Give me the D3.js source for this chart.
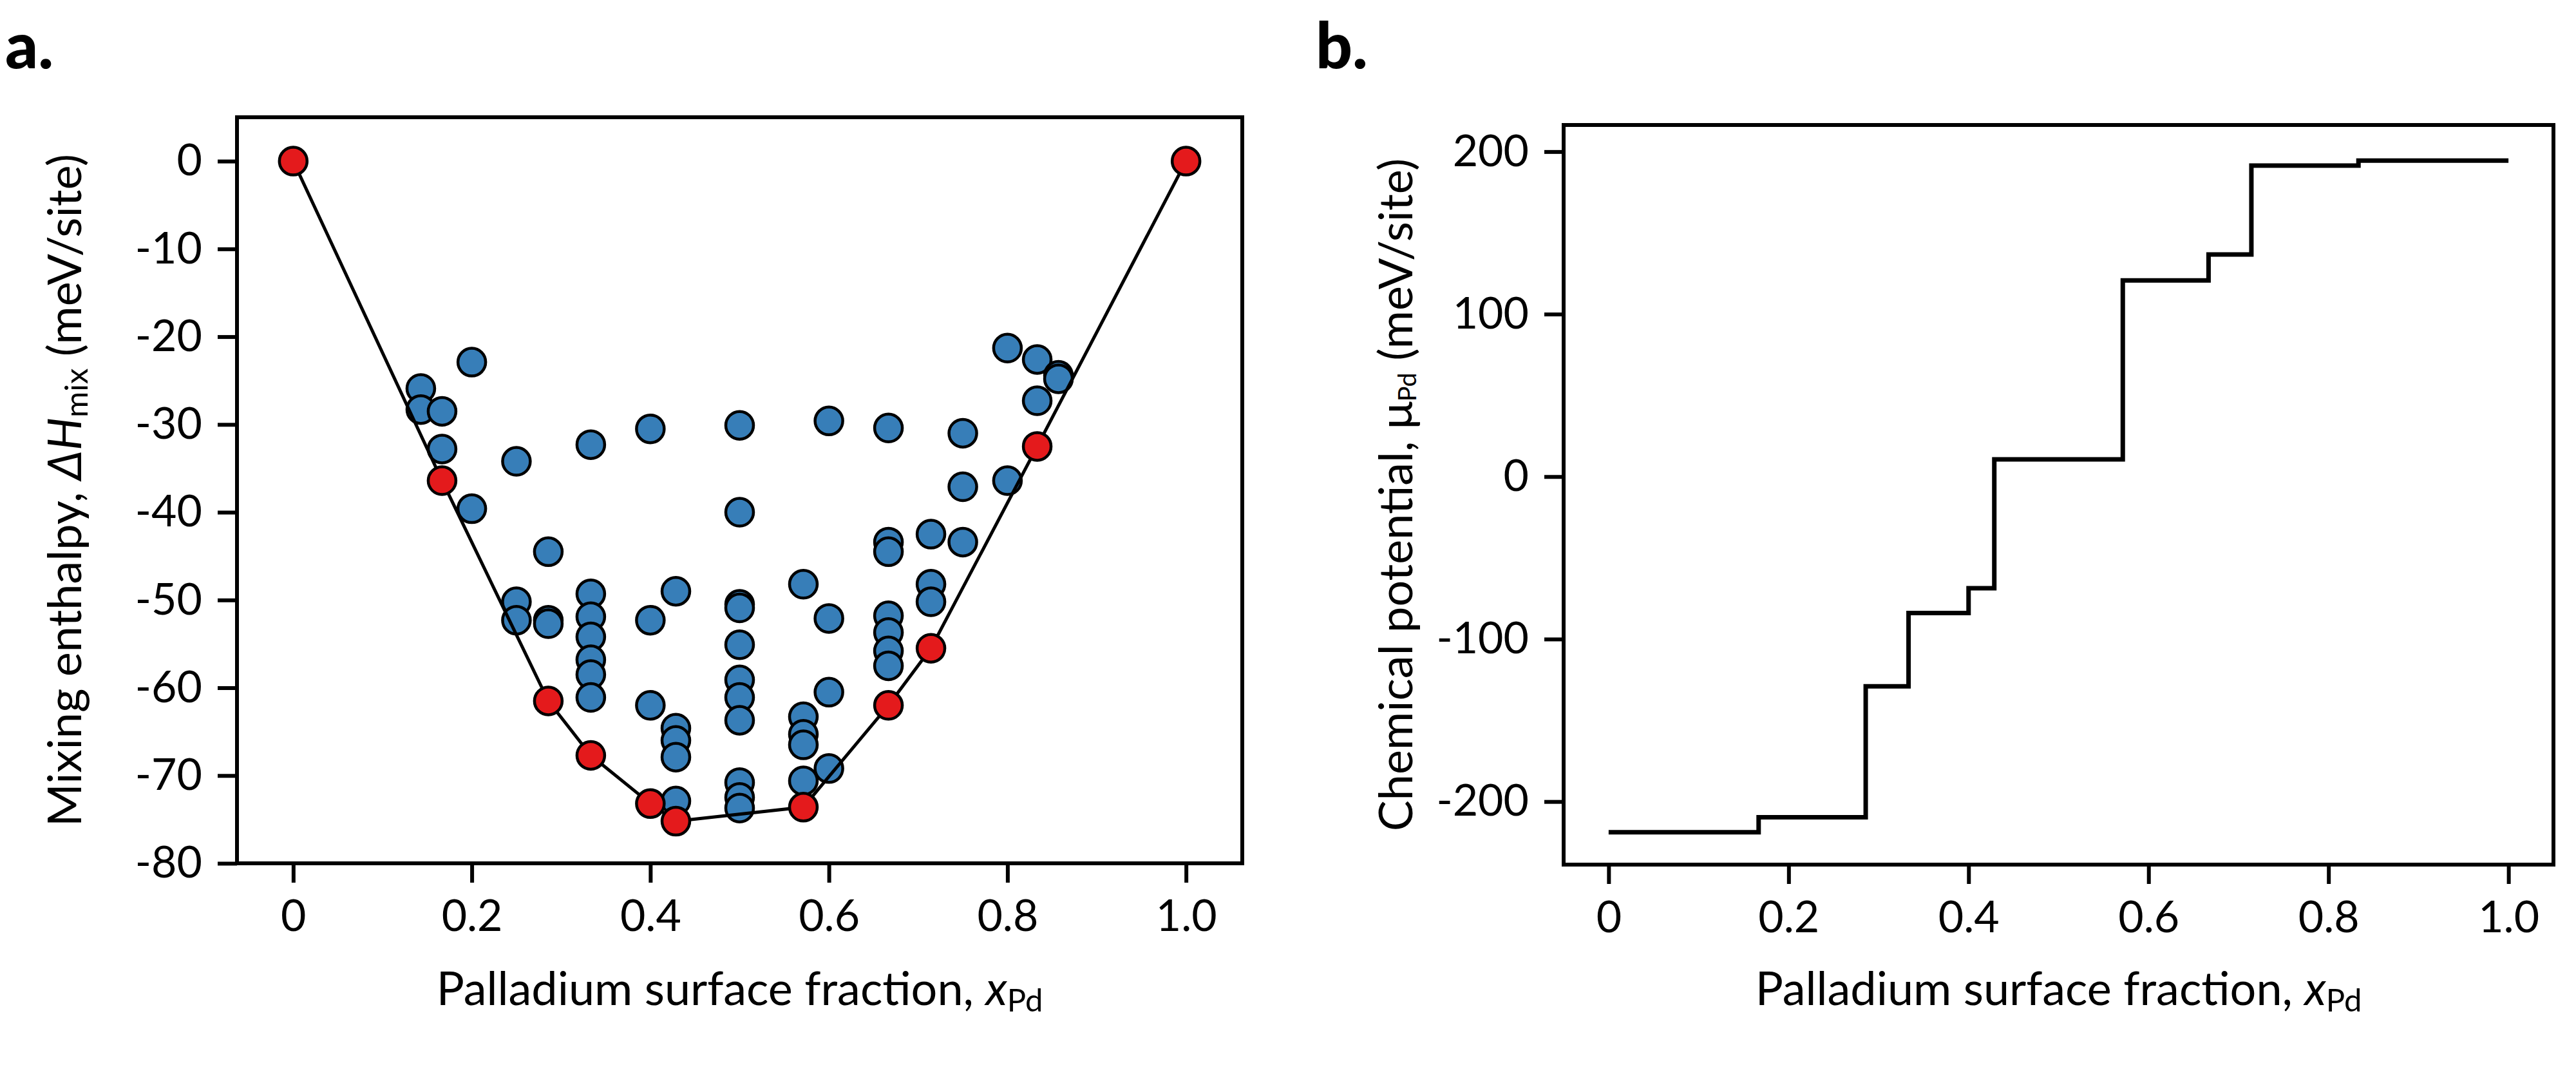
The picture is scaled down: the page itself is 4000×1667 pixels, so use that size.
<!DOCTYPE html>
<html>
<head>
<meta charset="utf-8">
<script src="https://cdn.jsdelivr.net/npm/d3@7"></script>
<style>
  html, body { margin: 0; padding: 0; background: #fff; }
  svg { display: block; }
  text { font-family: Lato, "Open Sans", sans-serif; fill: #000; }
</style>
</head>
<body>
<svg id="chart" width="4000" height="1667"></svg>
<script>
// ---------------- DATA ----------------
// Panel a: mixing enthalpy of sampled configurations (blue) and hull (red)
const blueX = [
  0.1429, 0.1429,
  0.1667, 0.1667,
  0.2, 0.2,
  0.25, 0.25, 0.25,
  0.2857, 0.2857, 0.2857,
  0.3333, 0.3333, 0.3333, 0.3333, 0.3333, 0.3333, 0.3333,
  0.4, 0.4, 0.4,
  0.4286, 0.4286, 0.4286, 0.4286, 0.4286,
  0.5, 0.5, 0.5, 0.5, 0.5, 0.5, 0.5, 0.5, 0.5, 0.5, 0.5,
  0.5714, 0.5714, 0.5714, 0.5714, 0.5714,
  0.6, 0.6, 0.6, 0.6,
  0.6667, 0.6667, 0.6667, 0.6667, 0.6667, 0.6667, 0.6667,
  0.7143, 0.7143, 0.7143,
  0.75, 0.75, 0.75,
  0.8, 0.8,
  0.8333, 0.8333,
  0.8571, 0.8571
];
const blueY = [
  -25.9, -28.3,
  -28.5, -32.8,
  -22.9, -39.6,
  -34.2, -50.2, -52.3,
  -44.5, -52.3, -52.7,
  -32.3, -49.3, -51.9, -54.2, -56.8, -58.5, -61.1,
  -30.5, -52.3, -62.0,
  -49.0, -64.6, -66.0, -67.9, -72.9,
  -30.1, -40.0, -50.5, -50.9, -55.1, -59.1, -61.1, -63.7, -70.8, -72.5, -73.7,
  -48.2, -63.3, -65.3, -66.5, -70.6,
  -29.6, -52.1, -60.5, -69.2,
  -30.4, -43.4, -44.5, -51.8, -53.7, -55.8, -57.5,
  -42.5, -48.2, -50.2,
  -31.0, -37.1, -43.4,
  -21.3, -36.4,
  -22.6, -27.3,
  -24.4, -24.8
];
const hullX = [0, 0.1667, 0.2857, 0.3333, 0.4, 0.4286, 0.5714, 0.6667, 0.7143, 0.8333, 1.0];
const hullY = [0, -36.4, -61.5, -67.7, -73.2, -75.2, -73.6, -62.0, -55.5, -32.5, 0];

// Panel b: chemical potential (step function, value holds from x until next x)
const stepX = [0, 0.1667, 0.2857, 0.3333, 0.4, 0.4286, 0.5714, 0.6667, 0.7143, 0.8333, 1.0];
const stepY = [-218.9, -209.7, -129.1, -84.0, -68.7, 10.6, 120.7, 136.7, 191.4, 194.5, 194.5];

// Tick values / labels
const xTicks = [0, 0.2, 0.4, 0.6, 0.8, 1.0];
const xTickLabels = ["0", "0.2", "0.4", "0.6", "0.8", "1.0"];
const yTicksA = [0, -10, -20, -30, -40, -50, -60, -70, -80];
const yTicksB = [200, 100, 0, -100, -200];

// ---------------- LAYOUT ----------------
const svg = d3.select("#chart");
const FS_TICK = 68;   // tick label font size
const FS = 72;        // axis label font size
const TICK = 30;

const A = { left: 368, right: 1929, top: 182, bottom: 1340 };
const B = { left: 2428, right: 3965, top: 194, bottom: 1342 };

const xA = d3.scaleLinear().domain([-0.063, 1.063]).range([A.left, A.right]);
const yA = d3.scaleLinear().domain([-80, 5]).range([A.bottom, A.top]);
const xB = d3.scaleLinear().domain([-0.05, 1.05]).range([B.left, B.right]);
const yB = d3.scaleLinear().domain([-238.8, 216.4]).range([B.bottom, B.top]);

function styleAxis(g) {
  g.select(".domain").remove();
  g.selectAll(".tick line").attr("stroke", "#000").attr("stroke-width", 6);
  g.selectAll(".tick text").style("font-size", FS_TICK + "px").attr("fill", "#000");
}

function drawAxes(P, x, y, yTicks) {
  svg.append("g")
    .attr("transform", `translate(0,${P.bottom})`)
    .call(d3.axisBottom(x).tickValues(xTicks).tickSize(TICK).tickPadding(27)
      .tickFormat((d, i) => xTickLabels[i]))
    .call(styleAxis);
  svg.append("g")
    .attr("transform", `translate(${P.left},0)`)
    .call(d3.axisLeft(y).tickValues(yTicks).tickSize(TICK).tickPadding(24)
      .tickFormat(d => String(d)))
    .call(styleAxis);
}

function drawFrame(P) {
  svg.append("rect")
    .attr("x", P.left).attr("y", P.top)
    .attr("width", P.right - P.left).attr("height", P.bottom - P.top)
    .attr("fill", "none").attr("stroke", "#000").attr("stroke-width", 6);
}

// ---------------- PANEL A ----------------
drawAxes(A, xA, yA, yTicksA);

const blue = blueX.map((x, i) => ({ x, y: blueY[i] }));
const hull = hullX.map((x, i) => ({ x, y: hullY[i] }));

svg.append("g").selectAll("circle").data(blue).join("circle")
  .attr("cx", d => xA(d.x)).attr("cy", d => yA(d.y)).attr("r", 21.5)
  .attr("fill", "#377eb8").attr("stroke", "#000").attr("stroke-width", 4.5);

svg.append("path")
  .datum(hull)
  .attr("d", d3.line().x(d => xA(d.x)).y(d => yA(d.y)))
  .attr("fill", "none").attr("stroke", "#000").attr("stroke-width", 5);

svg.append("g").selectAll("circle").data(hull).join("circle")
  .attr("cx", d => xA(d.x)).attr("cy", d => yA(d.y)).attr("r", 21.5)
  .attr("fill", "#e41a1c").attr("stroke", "#000").attr("stroke-width", 4.5);

drawFrame(A);

// ---------------- PANEL B ----------------
drawAxes(B, xB, yB, yTicksB);

const steps = stepX.map((x, i) => ({ x, y: stepY[i] }));
svg.append("path")
  .datum(steps)
  .attr("d", d3.line().curve(d3.curveStepAfter).x(d => xB(d.x)).y(d => yB(d.y)))
  .attr("fill", "none").attr("stroke", "#000").attr("stroke-width", 7);

drawFrame(B);

// ---------------- TEXT ----------------
// panel letters
svg.append("text").attr("x", 8).attr("y", 106)
  .style("font-size", "100px").style("font-weight", "900").text("a.");
svg.append("text").attr("x", 2043).attr("y", 106)
  .style("font-size", "100px").style("font-weight", "900").text("b.");

// x-axis labels
function xLabel(cx) {
  const t = svg.append("text").attr("x", cx).attr("y", 1560)
    .attr("text-anchor", "middle").style("font-size", FS + "px");
  t.append("tspan").text("Palladium surface fraction, ");
  t.append("tspan").style("font-style", "italic").text("x");
  t.append("tspan").attr("dy", 10).style("font-size", (FS * 0.68) + "px").text("Pd");
}
xLabel((A.left + A.right) / 2);
xLabel((B.left + B.right) / 2);

// y-axis label panel a
{
  const cy = (A.top + A.bottom) / 2;
  const t = svg.append("text")
    .attr("transform", `translate(126,${cy}) rotate(-90)`)
    .attr("text-anchor", "middle").style("font-size", FS + "px");
  t.append("tspan").text("Mixing enthalpy, ");
  t.append("tspan").style("font-style", "italic").text("ΔH");
  t.append("tspan").attr("dy", 10).style("font-size", (FS * 0.68) + "px").text("mix");
  t.append("tspan").attr("dy", -10).text(" (meV/site)");
}
// y-axis label panel b
{
  const cy = (B.top + B.bottom) / 2;
  const t = svg.append("text")
    .attr("transform", `translate(2193,${cy}) rotate(-90)`)
    .attr("text-anchor", "middle").style("font-size", FS + "px");
  t.append("tspan").text("Chemical potential, ");
  t.append("tspan").text("μ");
  t.append("tspan").attr("dy", 6).style("font-size", (FS * 0.55) + "px").text("Pd");
  t.append("tspan").attr("dy", -6).text(" (meV/site)");
}
</script>
</body>
</html>
